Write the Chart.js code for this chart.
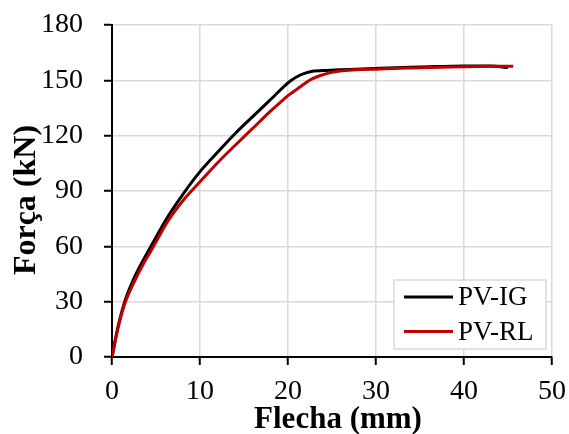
<!DOCTYPE html>
<html>
<head>
<meta charset="utf-8">
<script src="https://cdn.jsdelivr.net/npm/chart.js@4"></script>
<style>
  html, body { margin: 0; padding: 0; background: #ffffff; }
  #wrap { width: 569px; height: 434px; }
</style>
</head>
<body>
<div id="wrap"><canvas id="c" width="569" height="434"></canvas></div>
<script>
// Series labels
const seriesLabels = ['PV-IG', 'PV-RL'];
// PV-IG (black)
const xIG = [0, 0.68, 1.44, 2.42, 3.56, 4.6, 6.2, 8.1, 10, 12.1, 14, 16.8, 18.5, 19.5, 20.3, 21.4, 22.5, 24, 25.9, 30.5, 35, 40, 43, 45.0];
const yIG = [0, 16.4, 30, 41.8, 52.6, 61.5, 75, 88.5, 100.5, 111.5, 121.2, 134, 141.8, 146.5, 149.8, 152.9, 154.7, 155.3, 155.7, 156.6, 157.2, 157.8, 157.8, 156.9];
// PV-RL (red)
const xRL = [0, 0.7, 1.5, 2.5, 3.6, 4.6, 6.4, 8.1, 10, 12.3, 14, 16, 17.95, 19, 20, 21.4, 22.5, 23.6, 24.8, 25.9, 30.5, 35, 40, 43, 45.6];
const yRL = [0, 16, 29.5, 40.5, 50.8, 59, 74, 85, 95, 106.8, 114.8, 124, 133, 137.5, 141.7, 146.5, 150.2, 152.5, 154.2, 155.1, 156.2, 156.8, 157.4, 157.6, 157.6];
// Axis ranges / ticks
const xTicks = [0, 10, 20, 30, 40, 50];
const yTicks = [0, 30, 60, 90, 120, 150, 180];
const xTitle = 'Flecha (mm)';
const yTitle = 'Força (kN)';

const FONT = "'Liberation Serif', 'Times New Roman', serif";
const colors = ['#000000', '#C00000'];

function pts(xs, ys) { return xs.map((x, i) => ({ x: x, y: ys[i] })); }

// small offsets of the axis titles, as in the original layout
const titleShift = { x: [6, 1], y: [-2, 9] };
const titleShiftPlugin = {
  id: 'titleShift',
  beforeDraw(chart) {
    Object.keys(titleShift).forEach(id => {
      const s = chart.scales[id];
      if (!s || s._shiftWrapped) return;
      const orig = s.drawTitle;
      s.drawTitle = function () {
        const c = this.ctx;
        c.save();
        c.translate(titleShift[id][0], titleShift[id][1]);
        orig.apply(this, arguments);
        c.restore();
      };
      s._shiftWrapped = true;
    });
  }
};

const legendPlugin = {
  id: 'insideLegend',
  afterDraw(chart) {
    const ctx = chart.ctx;
    const a = chart.chartArea;
    const w = 152, h = 69;
    const bx = a.right - 6 - w, by = a.bottom - 8 - h;
    ctx.save();
    ctx.fillStyle = '#ffffff';
    ctx.fillRect(bx, by, w, h);
    ctx.strokeStyle = '#d9d9d9';
    ctx.lineWidth = 1.5;
    ctx.strokeRect(bx, by, w, h);
    ctx.font = '27px ' + FONT;
    ctx.textBaseline = 'middle';
    ctx.textAlign = 'left';
    chart.data.datasets.forEach((ds, i) => {
      const cy = by + 17 + i * 34.5;
      ctx.strokeStyle = ds.borderColor;
      ctx.lineWidth = 3;
      ctx.beginPath();
      ctx.moveTo(bx + 10, cy);
      ctx.lineTo(bx + 59, cy);
      ctx.stroke();
      ctx.fillStyle = '#000000';
      ctx.fillText(ds.label, bx + 64, cy + 1);
    });
    ctx.restore();
  }
};

new Chart(document.getElementById('c'), {
  type: 'scatter',
  data: {
    datasets: [
      { label: seriesLabels[0], data: pts(xIG, yIG), borderColor: colors[0], backgroundColor: colors[0],
        showLine: true, pointRadius: 0, borderWidth: 3, cubicInterpolationMode: 'monotone', order: 1 },
      { label: seriesLabels[1], data: pts(xRL, yRL), borderColor: colors[1], backgroundColor: colors[1],
        showLine: true, pointRadius: 0, borderWidth: 3, cubicInterpolationMode: 'monotone', order: 0 }
    ]
  },
  options: {
    responsive: false,
    devicePixelRatio: 1,
    animation: false,
    layout: { padding: { top: 25, right: 17, left: 0, bottom: 0 } },
    plugins: { legend: { display: false }, tooltip: { enabled: false } },
    scales: {
      x: {
        type: 'linear', min: xTicks[0], max: xTicks[xTicks.length - 1],
        afterBuildTicks: (s) => { s.ticks = xTicks.map(v => ({ value: v })); },
        afterFit: (s) => { s.height = 77; s.paddingLeft = 0; s.paddingRight = 0; },
        ticks: { color: '#000', font: { family: FONT, size: 28, lineHeight: 1.2 }, padding: 10, maxRotation: 0 },
        grid: { color: '#d9d9d9', lineWidth: 1.5, tickColor: '#000', tickWidth: 2, tickLength: 8 },
        border: { color: '#000', width: 2 },
        title: { display: true, text: xTitle, color: '#000', font: { family: FONT, size: 31, weight: 'bold', lineHeight: 1.0 }, padding: { top: 0, bottom: 0 } }
      },
      y: {
        type: 'linear', min: yTicks[0], max: yTicks[yTicks.length - 1],
        afterBuildTicks: (s) => { s.ticks = yTicks.map(v => ({ value: v })); },
        afterFit: (s) => { s.width = 112; s.paddingTop = 0; s.paddingBottom = 0; },
        ticks: { color: '#000', font: { family: FONT, size: 28, lineHeight: 1.2 }, padding: 21 },
        grid: { color: '#d9d9d9', lineWidth: 1.5, tickColor: '#000', tickWidth: 2, tickLength: 8 },
        border: { color: '#000', width: 2 },
        title: { display: true, text: yTitle, color: '#000', font: { family: FONT, size: 32, weight: 'bold', lineHeight: 1.2 }, padding: { top: 10, bottom: 0 } }
      }
    }
  },
  plugins: [titleShiftPlugin, legendPlugin]
});
</script>
</body>
</html>
